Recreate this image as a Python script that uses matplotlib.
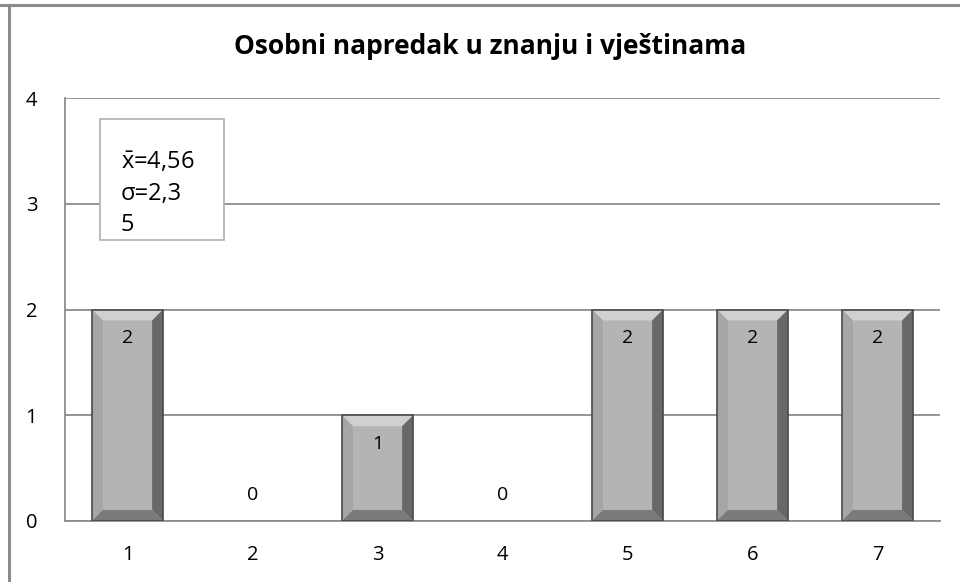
import matplotlib
matplotlib.use("Agg")
import matplotlib.pyplot as plt
from matplotlib.patches import Polygon, Rectangle
from matplotlib.lines import Line2D

categories = ["1", "2", "3", "4", "5", "6", "7"]
counts = [2, 0, 1, 0, 2, 2, 2]
y_ticks = [0, 1, 2, 3, 4]
title = "Osobni napredak u znanju i vještinama"
stats_lines = [r"$\bar{\mathrm{x}}$=4,56", "σ=2,3", "5"]

FONT = ["Open Sans", "DejaVu Sans"]
plt.rcParams["font.family"] = FONT
plt.rcParams["mathtext.fontset"] = "custom"
plt.rcParams["mathtext.rm"] = "Open Sans"
plt.rcParams["mathtext.it"] = "Open Sans:italic"

W, H = 960, 582
fig = plt.figure(figsize=(W / 100, H / 100), dpi=100)
fig.patch.set_facecolor("white")

# outer frame (top and left edges)
fig.add_artist(Line2D([0, 1], [1 - 4.5 / H, 1 - 4.5 / H], color="#8c8c8c", lw=2.2,
                      transform=fig.transFigure))
fig.add_artist(Line2D([9 / W, 9 / W], [0, 1 - 4.5 / H], color="#8c8c8c", lw=2.2,
                      transform=fig.transFigure))

ax = fig.add_axes([65 / W, (H - 521) / H, 875 / W, 423 / H])
x = list(range(len(categories)))
bars = ax.bar(x, counts, width=0.57, color="#b4b4b4", edgecolor="none", zorder=3)

ax.set_xlim(-0.5, len(categories) - 0.5)
ax.set_ylim(0, 4)
ax.set_yticks(y_ticks)
ax.set_yticklabels([str(t) for t in y_ticks])
ax.set_xticks(x)
ax.set_xticklabels(categories)
ax.tick_params(axis="both", length=0, labelsize=14.5, colors="black")
ax.tick_params(axis="y", pad=20)
ax.tick_params(axis="x", pad=17)
for s in ["top", "right"]:
    ax.spines[s].set_visible(False)
ax.spines["left"].set_color("#8c8c8c")
ax.spines["bottom"].set_color("#8c8c8c")
ax.spines["left"].set_linewidth(1.3)
ax.spines["bottom"].set_linewidth(1.3)
ax.yaxis.grid(True, color="#8c8c8c", lw=1.3)
ax.set_axisbelow(True)

# bevelled bar faces
bx = 11 / 125.0
by = 11 / 105.75
for b in bars:
    h = b.get_height()
    if h <= 0:
        continue
    x0 = b.get_x()
    x1 = x0 + b.get_width()
    y0, y1 = 0.0, h
    top = [(x0, y1), (x1, y1), (x1 - bx, y1 - by), (x0 + bx, y1 - by)]
    bottom = [(x0, y0), (x1, y0), (x1 - bx, y0 + by), (x0 + bx, y0 + by)]
    left = [(x0, y0), (x0, y1), (x0 + bx, y1 - by), (x0 + bx, y0 + by)]
    right = [(x1, y0), (x1, y1), (x1 - bx, y1 - by), (x1 - bx, y0 + by)]
    for pts, c in [(top, "#d0d0d0"), (left, "#a6a6a6"), (right, "#686868"), (bottom, "#7a7a7a")]:
        ax.add_patch(Polygon(pts, closed=True, facecolor=c, edgecolor="none", zorder=4))
    ax.add_patch(Rectangle((x0, y0), x1 - x0, h, fill=False, edgecolor="#4a4a4a", lw=1.2, zorder=5))

# value labels
for xi, v in zip(x, counts):
    if v > 0:
        ax.annotate(str(v), (xi, v), xytext=(0, -20.5), textcoords="offset points",
                    ha="center", va="center", fontsize=14, zorder=6)
    else:
        ax.annotate(str(v), (xi, v), xytext=(0, 19), textcoords="offset points",
                    ha="center", va="center", fontsize=14, zorder=6)

# summary statistics box
fig.add_artist(Rectangle((100 / W, (H - 240) / H), 124 / W, 121 / H, fill=True,
                         facecolor="white", edgecolor="#b0b0b0", lw=1.2,
                         transform=fig.transFigure, zorder=7))
for i, line in enumerate(stats_lines):
    fig.text(121 / W, (H - (163 + 31 * i)) / H, line, fontsize=17, ha="left",
             va="center", zorder=8, family=FONT)

fig.text(490 / W, (H - 47) / H, title, fontsize=19, fontweight="bold",
         ha="center", va="center")

fig.savefig("out.png", dpi=100)
